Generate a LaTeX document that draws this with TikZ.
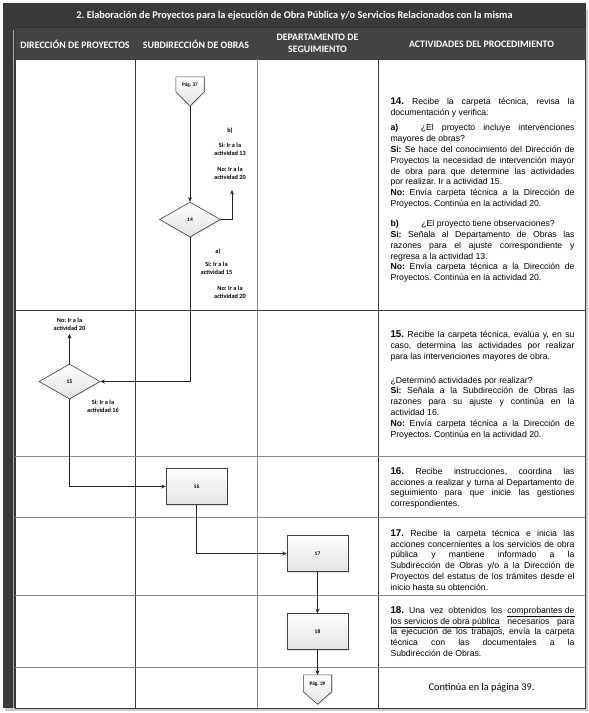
\documentclass[tikz,border=0pt]{standalone}
\usepackage{fontspec}
\setmainfont{Liberation Sans}
\newfontfamily\calfont{Carlito}
\usetikzlibrary{shapes.geometric,arrows.meta,shadows,calc}
\definecolor{hdr}{HTML}{3A3A3A}
\definecolor{hdrrow}{HTML}{444444}
\definecolor{gridc}{HTML}{3C3C3C}
\definecolor{gridl}{HTML}{8A8A8A}
\newcommand{\actnum}[1]{{\fontsize{9.8}{10.8}\selectfont\textbf{#1}}}
\frenchspacing
\begin{document}
\begin{tikzpicture}[x=1pt,y=-1pt,
  flowshape/.style={draw=black!75, line width=0.6pt, top color=white, middle color=white, bottom color=gray!22,
    drop shadow={shadow xshift=1pt,shadow yshift=-1pt,fill=gray!45},
    font=\calfont\bfseries\fontsize{5.5}{6}\selectfont, inner sep=0pt},
  proc/.style={flowshape, rectangle, minimum width=61pt, minimum height=36pt},
  dec/.style={flowshape, diamond, aspect=1.74, minimum width=61pt, minimum height=35pt},
  conn/.style={inner sep=0pt, minimum width=28pt, minimum height=29pt},
  lbl/.style={font=\calfont\bfseries\fontsize{6.3}{8}\selectfont, align=center, inner sep=0pt},
  act/.style={text width=184pt, align=justify, font=\frenchspacing\fontsize{8.7}{10.8}\selectfont, inner sep=0pt},
  hdrtxt/.style={font=\calfont\bfseries\fontsize{9.9}{12.5}\selectfont, text=white, align=center, inner sep=0pt},
  arr/.style={draw=black!85, line width=0.7pt, -{Stealth[length=4.5pt,width=4pt]}},
  grid/.style={draw=gridc, line width=0.7pt},
  gridlight/.style={draw=gridl, line width=1pt}
]
\useasboundingbox (0,0) rectangle (589,713);
\fill[white] (0,0) rectangle (589,713);
% outer shadow
\fill[gray!40] (5,10) rectangle (588,711);
\fill[white] (15,59) rectangle (585,708);
% header band
\fill[hdr] (3,3) rectangle (586,27);
\fill[hdrrow] (3,27) rectangle (586,59);
\draw[black!80,line width=0.8pt] (3,27) -- (586,27);
% left strip
\fill[hdr] (3,27) rectangle (15,708);
\draw[gray!70,line width=0.6pt] (13,30) -- (13,708);
% grid
\draw[grid] (15,59) rectangle (585,708);
\draw[grid] (135,59) -- (135,708);
\draw[gridlight] (257,59) -- (257,708);
\draw[grid] (378,59) -- (378,708);
\draw[grid] (15,310) -- (585,310);
\draw[gridlight] (15,456) -- (585,456);
\draw[gridlight] (15,517) -- (585,517);
\draw[gridlight] (15,595) -- (585,595);
\draw[gridlight] (15,667) -- (585,667);

% header texts
\node[hdrtxt, font=\calfont\bfseries\fontsize{10.3}{12.5}\selectfont] (title) at (294.5,16) {2. Elaboración de Proyectos para la ejecución de Obra Pública y/o Servicios Relacionados con la misma};
\node[hdrtxt] (h1) at (75,44) {DIRECCIÓN DE PROYECTOS};
\node[hdrtxt] (h2) at (196,44) {SUBDIRECCIÓN DE OBRAS};
\node[hdrtxt] (h3) at (317.5,43.5) {DEPARTAMENTO DE\\SEGUIMIENTO};
\node[hdrtxt] (h4) at (481.5,44) {ACTIVIDADES DEL PROCEDIMIENTO};

% off-page connectors
\node[conn] (p37) at (190,91.5) {};
\draw[flowshape] (p37.north west) -- (p37.north east) -- ($(p37.north east)+(0,15)$) -- (p37.south) -- ($(p37.north west)+(0,15)$) -- cycle;
\node[font=\calfont\bfseries\fontsize{5.3}{6}\selectfont] (p37t) at ($(p37.north)+(0,8.5)$) {Pág. 37};

\node[conn] (p39) at (317.5,689.5) {};
\draw[flowshape] (p39.north west) -- (p39.north east) -- ($(p39.north east)+(0,17)$) -- (p39.south) -- ($(p39.north west)+(0,17)$) -- cycle;
\node[font=\calfont\bfseries\fontsize{5.3}{6}\selectfont] (p39t) at ($(p39.north)+(0,9)$) {Pág. 39};

% flow nodes
\node[dec] (d14) at (190,219.5) {14};
\node[dec] (d15) at (69.5,381.5) {15};
\node[proc] (b16) at (196.5,486.5) {16};
\node[proc] (b17) at (317.5,553.5) {17};
\node[proc] (b18) at (317.5,631.5) {18};

\coordinate (c14b) at (232,190);
\coordinate (c15n) at (69.5,334);

% connectors
\draw[arr] (p37.south) -- (d14.north);
\draw[arr] (d14.east) -| (c14b);
\draw[arr] (d14.south) |- (d15.east);
\draw[arr] (d15.north) -- (c15n);
\draw[arr] (d15.south) |- (b16.west);
\draw[arr] (b16.south) |- (b17.west);
\draw[arr] (b17.south) -- (b18.north);
\draw[arr] (b18.south) -- (p39.north);

% flow labels
\node[lbl] (lb) at (230,131) {b)};
\node[lbl] (lb1) at (230,149.5) {Si: Ir a la\\actividad 13};
\node[lbl] (lb2) at (230,173.5) {No: Ir a la\\actividad 20};
\node[lbl] (la) at (218,251.5) {a)};
\node[lbl] (la1) at (216.5,268.5) {Si: Ir a la\\actividad 15};
\node[lbl] (la2) at (230,292.5) {No: Ir a la\\actividad 20};
\node[lbl] (l15n) at (69.5,324) {No: Ir a la\\actividad 20};
\node[lbl] (l15s) at (103,406.5) {Si: Ir a la\\actividad 16};

% activity texts
\node[act] (t14) at (482.5,190) {%
\actnum{14.} Recibe la carpeta técnica, revisa la\linebreak
documentación y verifica:\par\vspace{5pt}
\textbf{a)}\hspace{2.6em}¿El proyecto incluye intervenciones\linebreak
mayores de obras?\newline
\textbf{Si:} Se hace del conocimiento del Dirección de\linebreak
Proyectos la necesidad de intervención mayor\linebreak
de obra para que determine las actividades\linebreak
por realizar. Ir a actividad 15.\newline
\textbf{No:} Envía carpeta técnica a la Dirección de\linebreak
Proyectos. Continúa en la actividad 20.\par\vspace{9.5pt}
\textbf{b)}\hspace{2.6em}¿El proyecto tiene observaciones?\newline
\textbf{Si:} Señala al Departamento de Obras las\linebreak
razones para el ajuste correspondiente y\linebreak
regresa a la actividad 13.\newline
\textbf{No:} Envía carpeta técnica a la Dirección de\linebreak
Proyectos. Continúa en la actividad 20.};

\node[act] (t15) at (482.5,385) {%
\actnum{15.} Recibe la carpeta técnica, evalúa y, en su\linebreak
caso, determina las actividades por realizar\linebreak
para las intervenciones mayores de obra.\par\vspace{13pt}
¿Determinó actividades por realizar?\newline
\textbf{Si:} Señala a la Subdirección de Obras las\linebreak
razones para su ajuste y continúa en la\linebreak
actividad 16.\newline
\textbf{No:} Envía carpeta técnica a la Dirección de\linebreak
Proyectos. Continúa en la actividad 20.};

\node[act] (t16) at (482.5,488) {%
\actnum{16.} Recibe instrucciones, coordina las\linebreak
acciones a realizar y turna al Departamento de\linebreak
seguimiento para que inicie las gestiones\linebreak
correspondientes.};

\node[act] (t17) at (482.5,560) {%
\actnum{17.} Recibe la carpeta técnica e inicia las\linebreak
acciones concernientes a los servicios de obra\linebreak
pública y mantiene informado a la\linebreak
Subdirección de Obras y/o a la Dirección de\linebreak
Proyectos del estatus de los trámites desde el\linebreak
inicio hasta su obtención.};

\node[act] (t18) at (482.5,631.5) {%
\actnum{18.} Una vez obtenidos los \underline{comprobantes de}\linebreak
\underline{los servicios de obra pública} necesarios para\linebreak
la ejecución de los trabajos, envía la carpeta\linebreak
técnica con las documentales a la\linebreak
Subdirección de Obras.};

\node[font=\calfont\fontsize{10.3}{12}\selectfont, inner sep=0pt] (cont) at (481.5,688) {Continúa en la página 39.};
\end{tikzpicture}
\end{document}
